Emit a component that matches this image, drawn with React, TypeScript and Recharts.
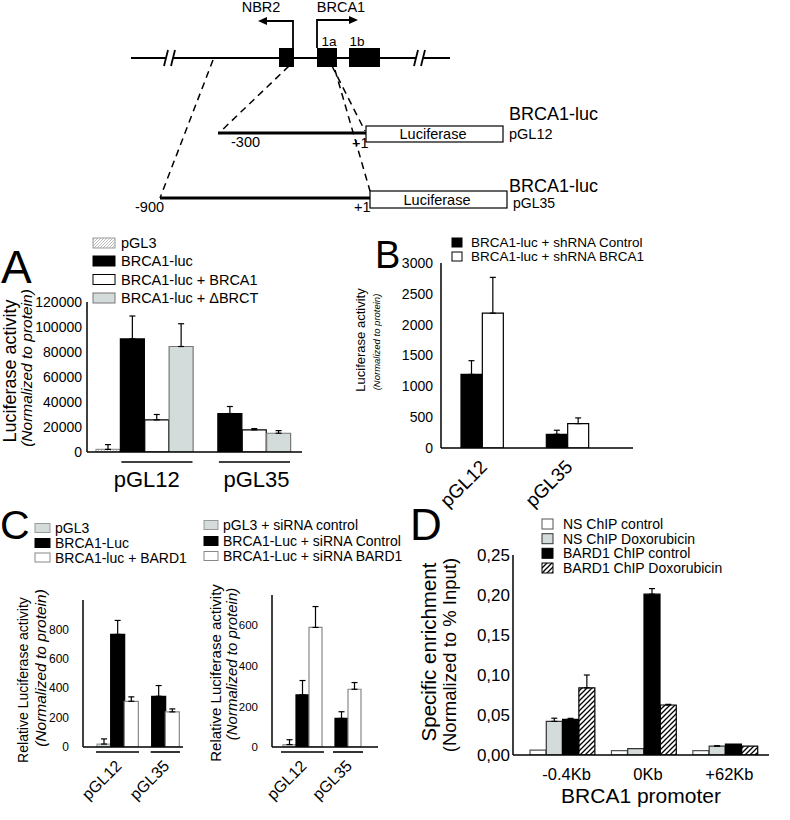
import React from 'react';
import { BarChart, Bar, XAxis, YAxis, ErrorBar, Cell } from 'recharts';

const FONT = '"Liberation Sans", Arial, Helvetica, sans-serif';
const GREY = '#d3dbdb';

// Panel A – luciferase activity, BRCA1 promoter constructs
const aGroups = ['pGL12', 'pGL35'];
const aSeries = ['pGL3', 'BRCA1-luc', 'BRCA1-luc + BRCA1', 'BRCA1-luc + ΔBRCT'];
const aValues = [[2100, 90500, 25700, 84400], [null, 30800, 17700, 15000]];
const aErrors = [[3800, 18300, 4300, 18200], [null, 5600, 1000, 2100]];
const aTicks = [0, 20000, 40000, 60000, 80000, 100000, 120000];

// Panel B – shRNA
const bGroups = ['pGL12', 'pGL35'];
const bSeries = ['BRCA1-luc + shRNA Control', 'BRCA1-luc + shRNA BRCA1'];
const bValues = [[1193, 2186], [222, 396]];
const bErrors = [[223, 581], [66, 92]];
const bTicks = [0, 500, 1000, 1500, 2000, 2500, 3000];

// Panel C (left) – BARD1 overexpression
const c1Groups = ['pGL12', 'pGL35'];
const c1Series = ['pGL3', 'BRCA1-Luc', 'BRCA1-luc + BARD1'];
const c1Values = [[20, 766, 311], [null, 345, 239]];
const c1Errors = [[35, 95, 30], [null, 73, 20]];
const c1Ticks = [0, 200, 400, 600, 800];

// Panel C (right) – siRNA BARD1
const c2Groups = ['pGL12', 'pGL35'];
const c2Series = ['pGL3 + siRNA control', 'BRCA1-Luc + siRNA Control', 'BRCA1-Luc + siRNA BARD1'];
const c2Values = [[12, 257, 590], [null, 141, 285]];
const c2Errors = [[24, 71, 103], [null, 33, 33]];
const c2Ticks = [0, 200, 400, 600];

// Panel D – ChIP
const dGroups = ['-0.4Kb', '0Kb', '+62Kb'];
const dSeries = ['NS ChIP control', 'NS ChIP Doxorubicin', 'BARD1 ChIP control', 'BARD1 ChIP Doxorubicin'];
const dValues = [[0.006, 0.042, 0.0445, 0.084], [0.0055, 0.008, 0.201, 0.0625], [0.0054, 0.011, 0.0137, 0.011]];
const dErrors = [[0, 0.004, 0.0013, 0.016], [0, 0, 0.007, 0.0008], [0, 0.0005, 0, 0]];
const dTicks = [0, 0.05, 0.1, 0.15, 0.2, 0.25];

type Sw = { fill: string; stroke: string };
const aStyles: Sw[] = [
  { fill: 'url(#hatchLight)', stroke: '#999' },
  { fill: '#000', stroke: '#000' },
  { fill: '#fff', stroke: '#000' },
  { fill: GREY, stroke: '#777' },
];
const bStyles: Sw[] = [
  { fill: '#000', stroke: '#000' },
  { fill: '#fff', stroke: '#000' },
];
const cStyles: Sw[] = [
  { fill: GREY, stroke: '#999' },
  { fill: '#000', stroke: '#000' },
  { fill: '#fff', stroke: '#888' },
];
const dStyles: Sw[] = [
  { fill: '#fff', stroke: '#555' },
  { fill: GREY, stroke: '#333' },
  { fill: '#000', stroke: '#000' },
  { fill: 'url(#hatchDark)', stroke: '#000' },
];

type Row = {
  key: string;
  value: number | null;
  err: [number, number] | null;
  s: number;
  label?: string;
  n?: number;
  lineStart?: number;
  lineN?: number;
};

function buildRows(groups: string[], values: (number | null)[][], errors: (number | null)[][], gap: number, skipControlInLine = false): Row[] {
  const rows: Row[] = [];
  groups.forEach((g, gi) => {
    if (gi > 0) for (let k = 0; k < gap; k++) rows.push({ key: `gap-${gi}-${k}`, value: null, err: null, s: -1 });
    const present = values[gi]
      .map((v, si) => ({ v, si, e: errors[gi][si] }))
      .filter(d => d.v != null);
    present.forEach((d, i) => {
      const row: Row = { key: `${g}|${d.si}`, value: d.v, err: d.e ? [0, d.e] : null, s: d.si };
      if (i === 0) {
        const skip = skipControlInLine && d.si === 0 ? 1 : 0;
        row.label = g;
        row.n = present.length;
        row.lineStart = skip;
        row.lineN = present.length - skip;
      }
      rows.push(row);
    });
  });
  return rows;
}

const Patterns = () => (
  <defs>
    <pattern id="hatchLight" patternUnits="userSpaceOnUse" width="3" height="3">
      <path d="M0,3 L3,0 M-1,1 L1,-1 M2,4 L4,2" stroke="#aaa" strokeWidth="0.8" />
    </pattern>
    <pattern id="hatchDark" patternUnits="userSpaceOnUse" width="5" height="5">
      <path d="M0,5 L5,0 M-1,1 L1,-1 M4,6 L6,4" stroke="#000" strokeWidth="1.3" />
    </pattern>
  </defs>
);

type Title = { text: string; x: number; cy: number; size: number; italic?: boolean };
type GroupCfg = {
  mode: 'flat' | 'rot';
  size: number;
  textDy: number;
  dx: number;
  underline?: boolean;
  lineDy?: number;
  lineExt?: number;
};
type Box = { x: number; y: number; w: number; h: number };

type PanelProps = {
  rows: Row[];
  styles: Sw[];
  plot: Box;
  box: Box;
  pad: [number, number];
  domain: [number, number];
  ticks: number[];
  tickFont: number;
  tickMargin: number;
  fmt?: (v: number) => string;
  titles: Title[];
  group: GroupCfg;
  xTitle?: { text: string; dy: number; size: number };
};

function Panel({ rows, styles, plot, box, pad, domain, ticks, tickFont, tickMargin, fmt, titles, group, xTitle }: PanelProps) {
  const bw = (plot.w - pad[0] - pad[1]) / rows.length;
  const yw = plot.x - box.x;
  const xh = box.y + box.h - (plot.y + plot.h);

  const renderTick = (props: any) => {
    const { x, y, payload } = props;
    const row = rows.find(r => r.key === payload.value);
    if (!row || !row.label) return <g />;
    const left = x - bw / 2;
    const cx = left + ((row.n || 1) * bw) / 2 + group.dx;
    const ext = group.lineExt || 0;
    const l1 = left + (row.lineStart || 0) * bw - ext;
    const l2 = left + ((row.lineStart || 0) + (row.lineN || 0)) * bw + ext;
    return (
      <g>
        {group.underline && (
          <line x1={l1} x2={l2} y1={y + (group.lineDy || 0)} y2={y + (group.lineDy || 0)} stroke="#000" strokeWidth={1.6} />
        )}
        {group.mode === 'flat' ? (
          <text x={cx} y={y + group.textDy} textAnchor="middle" fontSize={group.size} fill="#000" fontFamily={FONT}>
            {row.label}
          </text>
        ) : (
          <text
            x={cx}
            y={y + group.textDy}
            textAnchor="end"
            fontSize={group.size}
            fill="#000"
            fontFamily={FONT}
            transform={`rotate(-45 ${cx} ${y + group.textDy})`}
          >
            {row.label}
          </text>
        )}
      </g>
    );
  };

  const yTitle = () => (
    <g>
      {titles.map(t => (
        <text
          key={t.text}
          x={t.x - box.x}
          y={t.cy - box.y}
          textAnchor="middle"
          dominantBaseline="central"
          fontSize={t.size}
          fontStyle={t.italic ? 'italic' : 'normal'}
          fill="#000"
          fontFamily={FONT}
          transform={`rotate(-90 ${t.x - box.x} ${t.cy - box.y})`}
        >
          {t.text}
        </text>
      ))}
    </g>
  );

  const xTitleContent = (p: any) => {
    if (!xTitle) return null;
    const vb = p.viewBox || {};
    return (
      <text x={plot.x - box.x + plot.w / 2} y={(vb.y || 0) + xTitle.dy} textAnchor="middle" fontSize={xTitle.size} fill="#000" fontFamily={FONT}>
        {xTitle.text}
      </text>
    );
  };

  return (
    <div style={{ position: 'absolute', left: box.x, top: box.y, width: box.w, height: box.h }}>
      <BarChart
        width={box.w}
        height={box.h}
        data={rows}
        barCategoryGap={0}
        margin={{ top: plot.y - box.y, right: box.x + box.w - (plot.x + plot.w), left: 0, bottom: 0 }}
      >
        <Patterns />
        <XAxis
          dataKey="key"
          type="category"
          interval={0}
          height={xh}
          padding={{ left: pad[0], right: pad[1] }}
          axisLine={{ stroke: '#000', strokeWidth: 1.5 }}
          tickLine={false}
          tickSize={0}
          tickMargin={0}
          tick={renderTick}
          label={xTitle ? { content: xTitleContent } : undefined}
        />
        <YAxis
          type="number"
          domain={domain}
          ticks={ticks}
          interval={0}
          width={yw}
          allowDataOverflow
          axisLine={{ stroke: '#000', strokeWidth: 1.5 }}
          tickLine={false}
          tickSize={0}
          tickMargin={tickMargin}
          tickFormatter={fmt}
          tick={{ fontSize: tickFont, fill: '#000', fontFamily: FONT }}
          label={{ content: yTitle }}
        />
        <Bar dataKey="value" isAnimationActive={false} strokeWidth={1.2}>
          {rows.map(r => (
            <Cell
              key={r.key}
              fill={r.s >= 0 ? styles[r.s].fill : 'none'}
              stroke={r.s >= 0 ? styles[r.s].stroke : 'none'}
            />
          ))}
          <ErrorBar dataKey="err" width={3} stroke="#000" strokeWidth={1.2} direction="y" isAnimationActive={false} />
        </Bar>
      </BarChart>
    </div>
  );
}

type LegendCfg = { series: string[]; styles: Sw[]; sx: number; sw: number; sh: number; tx: number; ys: number[]; size: number };

const Legend = ({ series, styles, sx, sw, sh, tx, ys, size }: LegendCfg) => (
  <g>
    {series.map((s, i) => (
      <g key={s}>
        <rect x={sx} y={ys[i] - sh / 2} width={sw} height={sh} fill={styles[i].fill} stroke={styles[i].stroke} strokeWidth={1} />
        <text x={tx} y={ys[i]} dominantBaseline="central" fontSize={size} fill="#000" fontFamily={FONT}>
          {s}
        </text>
      </g>
    ))}
  </g>
);

const Schematic = () => (
  <g fontFamily={FONT} fill="#000">
    {/* genomic line */}
    <line x1={131} y1={58} x2={450} y2={58} stroke="#000" strokeWidth={2.2} />
    {[168, 418].map(bx => (
      <g key={bx}>
        <rect x={bx - 2} y={52} width={7} height={12} fill="#fff" />
        <line x1={bx - 4} y1={66} x2={bx} y2={50} stroke="#000" strokeWidth={1.8} />
        <line x1={bx + 3} y1={66} x2={bx + 7} y2={50} stroke="#000" strokeWidth={1.8} />
      </g>
    ))}
    <rect x={279} y={48} width={15} height={19} />
    <rect x={317} y={48} width={20} height={19} />
    <rect x={349} y={48} width={31} height={19} />
    {/* promoters */}
    <polyline points="293,48 293,21 265,21" fill="none" stroke="#000" strokeWidth={1.8} />
    <polygon points="258,21 267,17 267,25" />
    <polyline points="317,48 317,20 350,20" fill="none" stroke="#000" strokeWidth={1.8} />
    <polygon points="358,20 349,16 349,24" />
    <text x={261} y={12} fontSize={14.5} textAnchor="middle">NBR2</text>
    <text x={341} y={12} fontSize={14.5} textAnchor="middle">BRCA1</text>
    <text x={329} y={46} fontSize={13.5} textAnchor="middle">1a</text>
    <text x={357} y={46} fontSize={13.5} textAnchor="middle">1b</text>
    {/* dashed zoom lines */}
    <g stroke="#000" strokeWidth={1.5} strokeDasharray="7 5">
      <line x1={213} y1={60} x2={160} y2={198} />
      <line x1={289} y1={66} x2={219} y2={133} />
      <line x1={332} y1={66} x2={365} y2={131} />
      <line x1={335} y1={70} x2={370} y2={191} />
    </g>
    {/* pGL12 */}
    <line x1={218} y1={133} x2={366} y2={133} stroke="#000" strokeWidth={3} />
    <rect x={366} y={126} width={137} height={16} fill="#fff" stroke="#000" strokeWidth={1.2} />
    <text x={433} y={139} fontSize={14.5} textAnchor="middle">Luciferase</text>
    <text x={509} y={139} fontSize={14.5}>pGL12</text>
    <text x={509} y={120} fontSize={18}>BRCA1-luc</text>
    <text x={231} y={147} fontSize={14.5}>-300</text>
    <text x={352} y={148} fontSize={14.5}>+1</text>
    {/* pGL35 */}
    <line x1={160} y1={198} x2={370} y2={198} stroke="#000" strokeWidth={3} />
    <rect x={370} y={191} width={137} height={17} fill="#fff" stroke="#000" strokeWidth={1.2} />
    <text x={437} y={205} fontSize={14.5} textAnchor="middle">Luciferase</text>
    <text x={513} y={208} fontSize={14}>pGL35</text>
    <text x={509} y={192} fontSize={18}>BRCA1-luc</text>
    <text x={135} y={212} fontSize={14.5}>-900</text>
    <text x={354} y={212} fontSize={14.5}>+1</text>
  </g>
);

const aRows = buildRows(aGroups, aValues, aErrors, 1, true);
const bRows = buildRows(bGroups, bValues, bErrors, 2);
const c1Rows = buildRows(c1Groups, c1Values, c1Errors, 1);
const c2Rows = buildRows(c2Groups, c2Values, c2Errors, 1);
const dRows = buildRows(dGroups, dValues, dErrors, 1);

const comma = (v: number) => v.toFixed(2).replace('.', ',');

export default function App() {
  return (
    <div style={{ position: 'absolute', left: 0, top: 0, width: 790, height: 820, background: '#fff', fontFamily: FONT, overflow: 'hidden' }}>
      <Panel
        rows={aRows}
        styles={aStyles}
        plot={{ x: 87, y: 302, w: 215, h: 150 }}
        box={{ x: 0, y: 240, w: 310, h: 260 }}
        pad={[9, 11]}
        domain={[0, 120000]}
        ticks={aTicks}
        tickFont={14}
        tickMargin={5}
        titles={[
          { text: 'Luciferase activity', x: 10, cy: 371, size: 18 },
          { text: '(Normalized to protein)', x: 26, cy: 368, size: 15.5, italic: true },
        ]}
        group={{ mode: 'flat', size: 22, textDy: 35, dx: 2, underline: true, lineDy: 10, lineExt: -1 }}
      />
      <Panel
        rows={bRows}
        styles={bStyles}
        plot={{ x: 441, y: 263, w: 192, h: 185 }}
        box={{ x: 340, y: 240, w: 300, h: 270 }}
        pad={[20, 44]}
        domain={[0, 3000]}
        ticks={bTicks}
        tickFont={14}
        tickMargin={8}
        titles={[
          { text: 'Luciferase activity', x: 360, cy: 340, size: 13 },
          { text: '(Normalized to protein)', x: 376, cy: 342, size: 9.5, italic: true },
        ]}
        group={{ mode: 'rot', size: 19, textDy: 20, dx: 6 }}
      />
      <Panel
        rows={c1Rows}
        styles={cStyles}
        plot={{ x: 83, y: 600, w: 100, h: 147 }}
        box={{ x: 0, y: 580, w: 190, h: 240 }}
        pad={[14, 4]}
        domain={[0, 1000]}
        ticks={c1Ticks}
        tickFont={12}
        tickMargin={14}
        titles={[
          { text: 'Relative Luciferase activity', x: 22.5, cy: 680, size: 14 },
          { text: '(Normalized to protein)', x: 40, cy: 668, size: 15.5, italic: true },
        ]}
        group={{ mode: 'rot', size: 16, textDy: 20, dx: 5, underline: true, lineDy: 5, lineExt: 1 }}
      />
      <Panel
        rows={c2Rows}
        styles={cStyles}
        plot={{ x: 272, y: 595, w: 106, h: 152 }}
        box={{ x: 200, y: 580, w: 185, h: 240 }}
        pad={[11, 17]}
        domain={[0, 750]}
        ticks={c2Ticks}
        tickFont={11.5}
        tickMargin={14}
        titles={[
          { text: 'Relative Luciferase activity', x: 215, cy: 673, size: 15 },
          { text: '(Normalized to protein)', x: 231.5, cy: 664, size: 15, italic: true },
        ]}
        group={{ mode: 'rot', size: 16, textDy: 20, dx: 5, underline: true, lineDy: 5, lineExt: 2 }}
      />
      <Panel
        rows={dRows}
        styles={dStyles}
        plot={{ x: 513, y: 555, w: 256, h: 200 }}
        box={{ x: 405, y: 545, w: 380, h: 275 }}
        pad={[17, 11]}
        domain={[0, 0.25]}
        ticks={dTicks}
        tickFont={17}
        tickMargin={3}
        fmt={comma}
        titles={[
          { text: 'Specific enrichment', x: 428, cy: 652, size: 20.5 },
          { text: '(Normalized to % Input)', x: 449, cy: 655, size: 18.5 },
        ]}
        group={{ mode: 'flat', size: 16.5, textDy: 25, dx: 4 }}
        xTitle={{ text: 'BRCA1 promoter', dy: 48, size: 21 }}
      />
      <svg width={790} height={820} style={{ position: 'absolute', left: 0, top: 0, pointerEvents: 'none' }}>
        <Patterns />
        <Schematic />
        <text x={1} y={283} fontSize={46} fontFamily={FONT}>A</text>
        <text x={375} y={268} fontSize={38} fontFamily={FONT}>B</text>
        <text x={0} y={539} fontSize={41} fontFamily={FONT}>C</text>
        <text x={410} y={540} fontSize={44} fontFamily={FONT}>D</text>
        <Legend series={aSeries} styles={aStyles} sx={93} sw={22} sh={10} tx={121} ys={[243, 261, 279.5, 298]} size={14.5} />
        <Legend series={bSeries} styles={bStyles} sx={452} sw={10} sh={9} tx={471} ys={[242.5, 256.5]} size={13.5} />
        <Legend series={c1Series} styles={cStyles} sx={35} sw={15} sh={9} tx={55} ys={[528, 543, 557.5]} size={14} />
        <Legend series={c2Series} styles={cStyles} sx={204} sw={14} sh={9} tx={223} ys={[525, 541, 556]} size={14} />
        <Legend series={dSeries} styles={dStyles} sx={542} sw={11} sh={10} tx={563} ys={[524, 538.7, 553.3, 568]} size={14} />
      </svg>
    </div>
  );
}
